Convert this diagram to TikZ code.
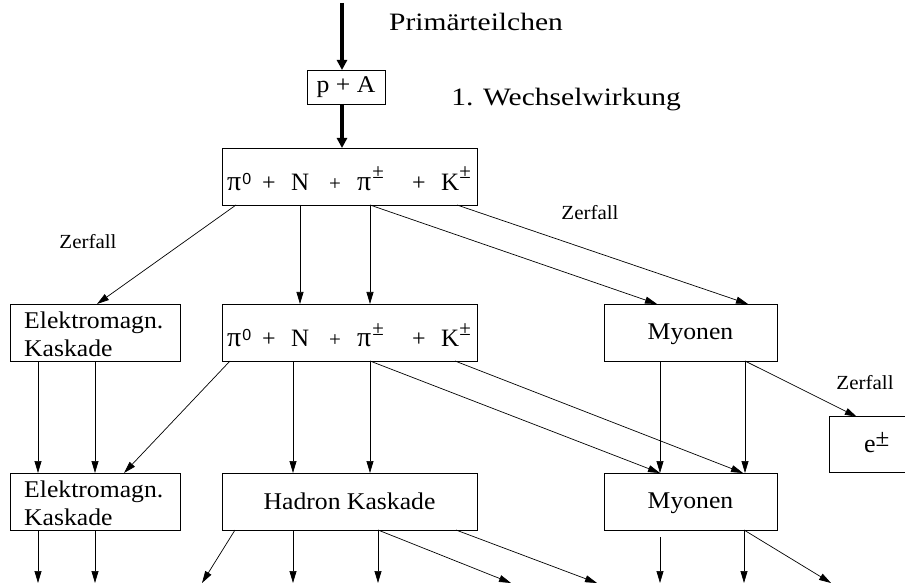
\documentclass[tikz,border=0pt]{standalone}
\usepackage{fontspec}
\setmainfont{Liberation Serif}
\newfontfamily\boxfnt{Liberation Serif}[FakeStretch=1.07]
\newfontfamily\bigfnt{Liberation Serif}[FakeStretch=1.18]
\newfontfamily\zfnt{Liberation Serif}[FakeStretch=1.05]
\newfontfamily\sfnt{Liberation Sans}
\usetikzlibrary{arrows.meta,calc}
\newcommand\pmsup[2]{\raisebox{#1pt}{\fontsize{#2}{#2}\selectfont ±}}
\begin{document}
\begin{tikzpicture}[x=1pt,y=-1pt,
  box/.style={draw, line width=0.8pt, inner sep=0pt, outer sep=0pt},
  lbl/.style={font=\boxfnt\fontsize{24}{28}\selectfont, inner sep=0pt},
  biglbl/.style={font=\bigfnt\fontsize{25}{28}\selectfont, inner sep=0pt},
  zlbl/.style={font=\zfnt\fontsize{20}{22}\selectfont, inner sep=0pt},
  tok/.style={font=\fontsize{25}{25}\selectfont, anchor=base west, inner sep=0pt},
  optok/.style={font=\fontsize{24}{24}\selectfont, anchor=base west, inner sep=0pt},
  arr/.style={-{Triangle[length=12pt,width=7pt]}, line width=0.7pt},
  thickarr/.style={-{Triangle[length=10pt,width=10pt]}, line width=3.5pt}
]
\useasboundingbox (0,0) rectangle (905,585);

% texts outside boxes
\node[biglbl] (prim) at (476,22) {Primärteilchen};
\node[biglbl] (ww) at (566,100) {1. Wechselwirkung};
\node[zlbl] (z1) at (88,242) {Zerfall};
\node[zlbl] (z2) at (590,213) {Zerfall};
\node[zlbl] (z3) at (865,383) {Zerfall};

% boxes
\node[box, minimum width=78pt, minimum height=34pt] (pa) at (346,87) {};
\node[lbl] at (pa.center) {p + A};
\node[box, minimum width=255pt, minimum height=57pt] (top) at (349.5,176.5) {};
\node[box, minimum width=170pt, minimum height=57pt] (em2) at (95,332.5) {};
\node[box, minimum width=255pt, minimum height=57pt] (pi2) at (349.5,332.5) {};
\node[box, minimum width=173pt, minimum height=57pt] (my2) at (690.5,332.5) {};
\node[box, minimum width=170pt, minimum height=57pt] (em3) at (95,501.5) {};
\node[box, minimum width=255pt, minimum height=57pt] (had) at (349.5,501.5) {};
\node[box, minimum width=173pt, minimum height=57pt] (my3) at (690.5,501.5) {};
\node[inner sep=0pt, minimum width=75pt, minimum height=55pt] (eb) at (867.5,444.5) {};
\draw[line width=0.8pt] (eb.north east) -- (eb.north west) -- (eb.south west) -- (eb.south east);

% box labels
\node[lbl, anchor=base west] at ($(em2.north west)+(14,24)$) {Elektromagn.};
\node[lbl, anchor=base west] at ($(em2.north west)+(14,52)$) {Kaskade};
\node[lbl, anchor=base west] at ($(em3.north west)+(14,24)$) {Elektromagn.};
\node[lbl, anchor=base west] at ($(em3.north west)+(14,52)$) {Kaskade};
\node[lbl] at ($(my2.center)+(0,2)$) {Myonen};
\node[lbl] at ($(my3.center)+(0,2)$) {Myonen};
\node[lbl] at (had.center) {Hadron Kaskade};
\node[tok, font=\fontsize{26}{26}\selectfont] at ($(eb.north west)+(34,36)$) {e\pmsup{6}{25}};

% particle rows
\foreach \b in {top,pi2}{
  \node[tok] at ($(\b.north west)+(5,43)$) {{\fontsize{28}{28}\selectfont π}\hspace{1pt}\raisebox{6pt}{\sfnt\fontsize{16}{16}\selectfont 0}};
  \node[optok] at ($(\b.north west)+(40,43)$) {+};
  \node[tok] at ($(\b.north west)+(69,43)$) {N};
  \node[optok, font=\fontsize{21}{21}\selectfont] at ($(\b.north west)+(107,43)$) {+};
  \node[tok] at ($(\b.north west)+(135,43)$) {{\fontsize{28}{28}\selectfont π}\hspace{1pt}\pmsup{12}{21}};
  \node[optok] at ($(\b.north west)+(190,43)$) {+};
  \node[tok] at ($(\b.north west)+(219,43)$) {K\pmsup{12}{21}};
}

% thick arrows
\coordinate (src) at (342,3);
\draw[thickarr] (src) -- (src |- pa.north);
\draw[thickarr] (pa.south -| src) -- (top.north -| src);

% from top box
\draw[arr] ($(top.south west)+(14,0)$) -- ($(em2.north west)+(87,0)$);
\draw[arr] ($(top.south west)+(78,0)$) -- ($(pi2.north west)+(78,0)$);
\draw[arr] ($(top.south west)+(148,0)$) -- ($(pi2.north west)+(148,0)$);
\draw[arr] ($(top.south west)+(148,0)$) -- ($(my2.north west)+(53,0)$);
\draw[arr] ($(top.south west)+(235,0)$) -- ($(my2.north west)+(144,0)$);

% row 2 -> row 3
\draw[arr] ($(em2.south west)+(28,0)$) -- ($(em3.north west)+(28,0)$);
\draw[arr] ($(em2.south west)+(85,0)$) -- ($(em3.north west)+(85,0)$);
\draw[arr] ($(pi2.south west)+(8,0)$) -- ($(em3.north west)+(114,0)$);
\draw[arr] ($(pi2.south west)+(71,0)$) -- ($(had.north west)+(71,0)$);
\draw[arr] ($(pi2.south west)+(148,0)$) -- ($(had.north west)+(148,0)$);
\draw[arr] ($(pi2.south west)+(148,0)$) -- ($(my3.north west)+(56,0)$);
\draw[arr] ($(pi2.south west)+(233,0)$) -- ($(my3.north west)+(139,0)$);
\draw[arr] ($(my2.south west)+(56,0)$) -- ($(my3.north west)+(56,0)$);
\draw[arr] ($(my2.south west)+(141,0)$) -- ($(my3.north west)+(141,0)$);
\draw[arr] ($(my2.south west)+(141,0)$) -- ($(eb.north west)+(27,0)$);

% row 3 outgoing
\draw[arr] ($(em3.south west)+(28,0)$) -- ($(em3.south west)+(28,53)$);
\draw[arr] ($(em3.south west)+(85,0)$) -- ($(em3.south west)+(85,53)$);
\draw[arr] ($(had.south west)+(13,0)$) -- ($(had.south west)+(-20,53)$);
\draw[arr] ($(had.south west)+(71,0)$) -- ($(had.south west)+(71,53)$);
\draw[arr] ($(had.south west)+(156,0)$) -- ($(had.south west)+(156,53)$);
\draw[arr] ($(had.south west)+(156,0)$) -- ($(had.south west)+(289,53)$);
\draw[arr] ($(had.south west)+(234,0)$) -- ($(had.south west)+(375,53)$);
\draw[arr] ($(my3.south west)+(56,7)$) -- ($(my3.south west)+(56,53)$);
\draw[arr] ($(my3.south west)+(140,0)$) -- ($(my3.south west)+(140,53)$);
\draw[arr] ($(my3.south west)+(140,0)$) -- ($(my3.south west)+(227,53)$);
\end{tikzpicture}
\end{document}
